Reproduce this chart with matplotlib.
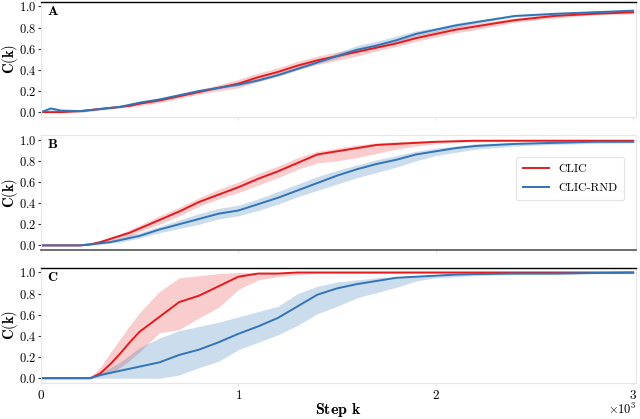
import matplotlib
matplotlib.use("Agg")
import matplotlib.pyplot as plt
import numpy as np

plt.rcParams['font.family'] = 'serif'
plt.rcParams['font.serif'] = ['cmr10', 'DejaVu Serif']
plt.rcParams['mathtext.fontset'] = 'cm'
plt.rcParams['axes.formatter.use_mathtext'] = True

# step grid (training steps)
steps = [0, 50, 100, 200, 250, 300, 350, 400, 450, 500, 600, 700, 800, 900, 1000,
         1100, 1200, 1300, 1400, 1500, 1600, 1700, 1800, 1900, 2000, 2100, 2200,
         2400, 2600, 2800, 3000]

# panel A
a_clic = [0, 0, 0, 0.01, 0.02, 0.03, 0.04, 0.05, 0.06, 0.08, 0.11, 0.15, 0.19, 0.23, 0.27,
          0.33, 0.38, 0.44, 0.49, 0.53, 0.57, 0.61, 0.65, 0.70, 0.74, 0.78, 0.81,
          0.87, 0.91, 0.93, 0.945]
a_clic_lo = [0, 0, 0, 0, 0.01, 0.02, 0.03, 0.04, 0.05, 0.06, 0.09, 0.13, 0.17, 0.20, 0.23,
             0.29, 0.34, 0.40, 0.45, 0.49, 0.53, 0.58, 0.62, 0.67, 0.71, 0.75, 0.78,
             0.85, 0.89, 0.92, 0.93]
a_clic_hi = [0, 0.01, 0.01, 0.02, 0.03, 0.04, 0.05, 0.06, 0.08, 0.10, 0.13, 0.17, 0.21, 0.26, 0.31,
             0.37, 0.42, 0.48, 0.53, 0.57, 0.60, 0.64, 0.68, 0.73, 0.77, 0.81, 0.84,
             0.89, 0.93, 0.945, 0.955]
a_rnd = [0, 0.035, 0.015, 0.01, 0.02, 0.03, 0.04, 0.05, 0.07, 0.09, 0.12, 0.16, 0.20, 0.23, 0.26,
         0.30, 0.35, 0.41, 0.47, 0.53, 0.59, 0.63, 0.68, 0.74, 0.78, 0.82, 0.85,
         0.91, 0.93, 0.945, 0.96]
a_rnd_lo = [0, 0.02, 0.005, 0.0, 0.01, 0.02, 0.03, 0.04, 0.06, 0.08, 0.11, 0.15, 0.19, 0.22, 0.25,
            0.29, 0.34, 0.40, 0.46, 0.51, 0.57, 0.61, 0.66, 0.72, 0.76, 0.80, 0.84,
            0.90, 0.92, 0.94, 0.955]
a_rnd_hi = [0, 0.045, 0.025, 0.02, 0.03, 0.04, 0.05, 0.06, 0.08, 0.10, 0.13, 0.17, 0.21, 0.24, 0.28,
            0.32, 0.37, 0.43, 0.49, 0.56, 0.63, 0.67, 0.72, 0.77, 0.80, 0.84, 0.87,
            0.92, 0.94, 0.955, 0.965]

# panel B
b_clic = [0, 0, 0, 0, 0.01, 0.03, 0.06, 0.09, 0.12, 0.16, 0.24, 0.32, 0.41, 0.48, 0.55,
          0.63, 0.70, 0.78, 0.86, 0.89, 0.92, 0.95, 0.96, 0.97, 0.98, 0.985, 0.99,
          0.99, 0.99, 0.99, 0.99]
b_clic_lo = [0, 0, 0, 0, 0.0, 0.02, 0.04, 0.07, 0.09, 0.13, 0.20, 0.28, 0.37, 0.44, 0.50,
             0.57, 0.64, 0.72, 0.78, 0.80, 0.83, 0.87, 0.91, 0.94, 0.96, 0.975, 0.98,
             0.985, 0.985, 0.985, 0.985]
b_clic_hi = [0, 0, 0, 0, 0.02, 0.05, 0.08, 0.11, 0.15, 0.19, 0.28, 0.36, 0.45, 0.53, 0.60,
             0.68, 0.75, 0.83, 0.89, 0.92, 0.95, 0.97, 0.98, 0.985, 0.99, 0.99, 0.995,
             0.995, 0.995, 0.995, 0.995]
b_rnd = [0, 0, 0, 0, 0.01, 0.02, 0.03, 0.05, 0.07, 0.09, 0.15, 0.20, 0.25, 0.30, 0.33,
         0.39, 0.45, 0.52, 0.59, 0.66, 0.72, 0.77, 0.81, 0.86, 0.89, 0.92, 0.94,
         0.96, 0.97, 0.98, 0.98]
b_rnd_lo = [0, 0, 0, 0, 0.0, 0.01, 0.02, 0.03, 0.05, 0.07, 0.12, 0.16, 0.20, 0.25, 0.28,
            0.33, 0.39, 0.46, 0.52, 0.58, 0.64, 0.69, 0.74, 0.80, 0.85, 0.88, 0.91,
            0.94, 0.955, 0.965, 0.97]
b_rnd_hi = [0, 0, 0, 0, 0.02, 0.03, 0.05, 0.07, 0.10, 0.12, 0.18, 0.24, 0.30, 0.35, 0.38,
            0.44, 0.51, 0.58, 0.65, 0.71, 0.76, 0.81, 0.85, 0.89, 0.92, 0.94, 0.96,
            0.975, 0.98, 0.985, 0.99]

# panel C
c_clic = [0, 0, 0, 0, 0, 0.045, 0.13, 0.23, 0.34, 0.44, 0.58, 0.72, 0.78, 0.87, 0.96,
          0.99, 0.99, 1.0, 1.0, 1.0, 1.0, 1.0, 1.0, 1.0, 1.0, 1.0, 1.0,
          1.0, 1.0, 1.0, 1.0]
c_clic_lo = [0, 0, 0, 0, 0, 0.02, 0.045, 0.10, 0.17, 0.25, 0.43, 0.46, 0.57, 0.67, 0.84,
             0.93, 0.96, 0.98, 0.99, 0.99, 0.99, 0.99, 0.99, 0.99, 0.99, 0.99, 0.99,
             0.99, 0.99, 0.99, 0.99]
c_clic_hi = [0, 0, 0, 0, 0.01, 0.10, 0.24, 0.37, 0.50, 0.62, 0.82, 0.95, 0.97, 0.99, 1.0,
             1.0, 1.0, 1.0, 1.0, 1.0, 1.0, 1.0, 1.0, 1.0, 1.0, 1.0, 1.0,
             1.0, 1.0, 1.0, 1.0]
c_rnd = [0, 0, 0, 0, 0, 0.03, 0.05, 0.07, 0.09, 0.11, 0.15, 0.22, 0.27, 0.34, 0.42,
         0.49, 0.57, 0.68, 0.79, 0.85, 0.89, 0.92, 0.95, 0.96, 0.97, 0.98, 0.985,
         0.99, 0.99, 0.995, 1.0]
c_rnd_lo = [0, 0, 0, 0, 0, 0.0, 0.0, 0.0, 0.0, 0.0, 0.0, 0.03, 0.10, 0.16, 0.27,
            0.34, 0.41, 0.50, 0.61, 0.68, 0.76, 0.81, 0.86, 0.92, 0.95, 0.96, 0.97,
            0.98, 0.98, 0.99, 0.99]
c_rnd_hi = [0, 0, 0, 0, 0, 0.05, 0.10, 0.15, 0.22, 0.29, 0.38, 0.45, 0.49, 0.53, 0.58,
            0.63, 0.68, 0.80, 0.87, 0.91, 0.93, 0.95, 0.96, 0.97, 0.98, 0.99, 0.99,
            1.0, 1.0, 1.0, 1.0]

panels = [
    ("A", a_clic, a_clic_lo, a_clic_hi, a_rnd, a_rnd_lo, a_rnd_hi),
    ("B", b_clic, b_clic_lo, b_clic_hi, b_rnd, b_rnd_lo, b_rnd_hi),
    ("C", c_clic, c_clic_lo, c_clic_hi, c_rnd, c_rnd_lo, c_rnd_hi),
]

RED = '#e41a1c'
BLUE = '#3274b5'
GRID = '#e6e6e6'

fig = plt.figure(figsize=(6.4, 4.19), dpi=100)
# axes boxes in figure fraction (left, bottom, width, height)
boxes = [(0.064, 0.721, 0.930, 0.275),
         (0.064, 0.403, 0.930, 0.275),
         (0.064, 0.086, 0.930, 0.275)]

x = np.array(steps)
axes = []
for i, (letter, rc, rc_lo, rc_hi, rb, rb_lo, rb_hi) in enumerate(panels):
    ax = fig.add_axes(boxes[i])
    axes.append(ax)
    ax.fill_between(x, rc_lo, rc_hi, color=RED, alpha=0.22, lw=0)
    ax.fill_between(x, rb_lo, rb_hi, color=BLUE, alpha=0.25, lw=0)
    ax.plot(x, rc, color=RED, lw=1.4, label="CLIC")
    ax.plot(x, rb, color=BLUE, lw=1.4, label="CLIC-RND")

    ax.set_xlim(0, 3015)
    ax.set_ylim(-0.045, 1.045)
    ax.set_yticks([0.0, 0.2, 0.4, 0.6, 0.8, 1.0])
    ax.set_xticks([0, 1000, 2000, 3000])
    ax.tick_params(axis='y', length=2.5, width=0.8, color='#333333', labelsize=9, pad=1)
    ax.tick_params(axis='x', length=2.5, width=0.8, color=GRID, labelsize=9.5, pad=2)
    for s in ax.spines.values():
        s.set_color(GRID)
        s.set_linewidth(0.8)
    ax.set_ylabel(r"$\mathbf{C(k)}$", fontsize=10.5)
    ax.yaxis.set_label_coords(-0.036, 0.5)
    ax.text(0.01, 0.97, r"$\mathbf{%s}$" % letter, transform=ax.transAxes, fontsize=10,
            va='top', ha='left')
    if i < 2:
        ax.tick_params(axis='x', labelbottom=False)

axes[0].spines['top'].set_color('black')
axes[0].spines['top'].set_linewidth(1.0)
axes[2].spines['top'].set_color('black')
axes[2].spines['top'].set_linewidth(1.0)
axes[1].spines['bottom'].set_color('#555555')
axes[1].spines['bottom'].set_linewidth(1.2)

# x axis in units of 10^3 steps, offset label drawn at the lower right
axes[2].ticklabel_format(axis='x', style='sci', scilimits=(0, 0))
axes[2].xaxis.get_offset_text().set_visible(False)
fig.text(0.995, 0.022, r"$\times10^{3}$", ha='right', va='center', fontsize=9)
axes[2].set_xlabel(r"$\mathbf{Step\ k}$", fontsize=11.5, labelpad=-1)

leg = axes[1].legend(loc='upper right', bbox_to_anchor=(0.99, 0.86), fontsize=8.5,
                     frameon=True, handlelength=2.2, borderpad=0.6, labelspacing=0.7)
leg.get_frame().set_edgecolor('#dddddd')
leg.get_frame().set_linewidth(0.8)

fig.savefig("out.png", dpi=100)
